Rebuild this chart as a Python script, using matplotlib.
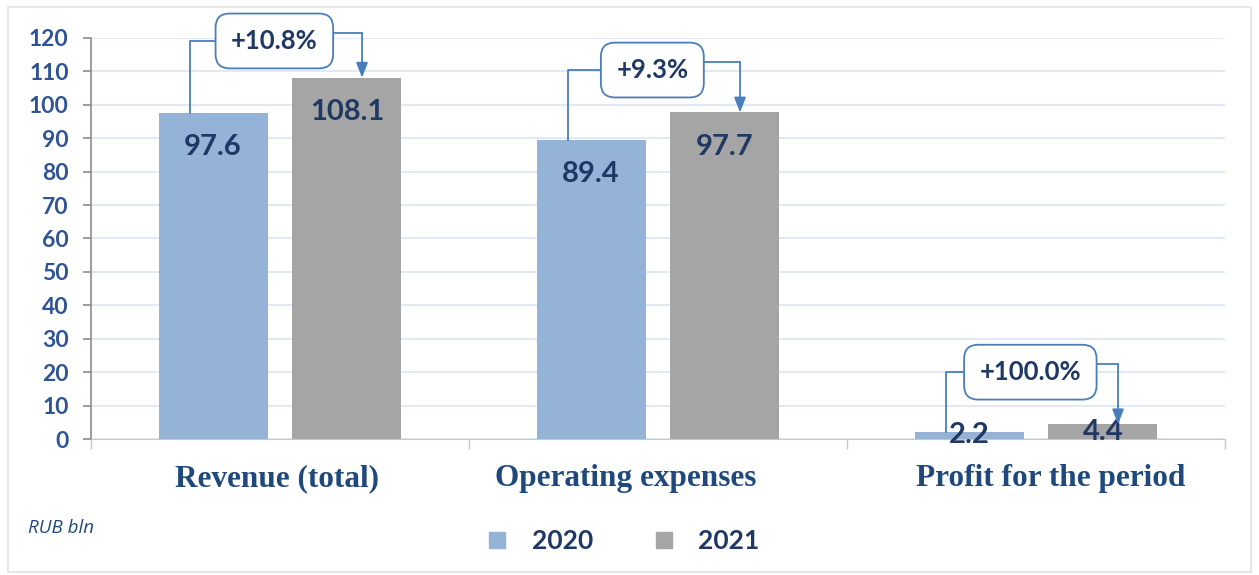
import numpy as np
import matplotlib.pyplot as plt
from matplotlib.lines import Line2D
from matplotlib.patches import Rectangle
from matplotlib.transforms import ScaledTranslation

# chart values (RUB bln)
categories = ["Revenue (total)", "Operating expenses", "Profit for the period"]
years = ["2020", "2021"]
values_2020 = [97.6, 89.4, 2.2]
values_2021 = [108.1, 97.7, 4.4]
changes = ["+10.8%", "+9.3%", "+100.0%"]
yticks = list(range(0, 121, 10))

# colours
c2020 = "#95B3D7"
c2021 = "#A5A5A5"
tick_col = "#2F5496"
label_col = "#1F3864"
cat_col = "#1F497D"
box_col = "#4A7EBB"
grid_col = "#DCE6F2"

fig = plt.figure(figsize=(12.59, 5.75), dpi=100)
fig.patches.append(Rectangle((0.006, 0.006), 0.988, 0.982, transform=fig.transFigure,
                             fill=False, edgecolor="#E3E3E3", linewidth=1.2))
ax = fig.add_axes([0.0723, 0.2365, 0.9007, 0.6975])

x = np.arange(len(categories))
w = 0.288
off = 0.177
ax.bar(x - off, values_2020, w, color=c2020, zorder=3)
ax.bar(x + off, values_2021, w, color=c2021, zorder=3)

# value labels inside bar tops
for xs, vals in ((x - off, values_2020), (x + off, values_2021)):
    for xi, v in zip(xs, vals):
        ax.text(xi, max(v - 10.2, v / 2), f"{v:.1f}", ha="center", va="center",
                fontsize=21, fontweight="bold", color=label_col, family="Lato", zorder=4)

ax.set_xlim(-0.5, 2.5)
ax.set_ylim(0, 120)
ax.set_yticks(yticks)
ax.set_yticklabels([str(t) for t in yticks], fontsize=16.5, fontweight="bold",
                   color=tick_col, family="Lato")
ax.tick_params(axis="y", length=6, color="#8C8C8C", width=1.2, pad=10)
ax.yaxis.grid(True, color=grid_col, linewidth=1.2, zorder=0)
ax.set_axisbelow(True)

ax.set_xticks(x)
ax.set_xticklabels(categories, fontsize=22.5, fontweight="bold", color=cat_col,
                   family="Liberation Serif")
ax.set_xticks([-0.5, 0.5, 1.5, 2.5], minor=True)
ax.tick_params(axis="x", which="major", length=0, pad=18)
ax.tick_params(axis="x", which="minor", length=7, color="#C8C8C8", width=1)
# category labels sit a little off-centre in the original
for lab, dx in zip(ax.get_xticklabels(), [-3, -32, 15]):
    lab.set_transform(lab.get_transform() + ScaledTranslation(dx / 100, 0, fig.dpi_scale_trans))

for s in ("top", "right"):
    ax.spines[s].set_visible(False)
ax.spines["left"].set_color("#8C8C8C")
ax.spines["left"].set_linewidth(1.2)
ax.spines["bottom"].set_color("#C8C8C8")

# change annotations: elbow line from 2020 bar, box, arrow into 2021 bar
box_y = [119.1, 110.4, 20.0]
for i, (a, b, txt) in enumerate(zip(values_2020, values_2021, changes)):
    xl = i - off - 0.06
    xr = i + off + 0.04
    yb = box_y[i]
    ax.text(i - 0.015, yb, txt, ha="center", va="center", fontsize=18.5,
            fontweight="bold", color=label_col, family="Lato", zorder=6, clip_on=False,
            bbox=dict(boxstyle="round,pad=0.6,rounding_size=0.55", fc="white",
                      ec=box_col, lw=1.3))
    ax.plot([xl, xl, i - 0.1], [a, yb, yb], color=box_col, lw=1.3, zorder=5,
            clip_on=False)
    ax.annotate("", xy=(xr, b), xytext=(xr, yb + 2.3),
                arrowprops=dict(arrowstyle="-|>,head_width=0.35,head_length=0.9",
                                color=box_col, lw=1.3, shrinkA=0, shrinkB=0),
                zorder=5, annotation_clip=False)
    ax.plot([i + 0.1, xr], [yb + 2.3, yb + 2.3], color=box_col, lw=1.3, zorder=5,
            clip_on=False)

# legend and unit note
handles = [Line2D([], [], marker="s", ls="", ms=11, color=c2020),
           Line2D([], [], marker="s", ls="", ms=11, color=c2021)]
leg = fig.legend(handles, years, loc="center", bbox_to_anchor=(0.494, 0.059), ncol=2,
                 frameon=False, handlelength=1.0, handletextpad=0.8, columnspacing=2.2,
                 prop={"family": "Lato", "weight": "bold", "size": 19})
for t in leg.get_texts():
    t.set_color(label_col)

fig.text(0.022, 0.082, "RUB bln", fontsize=13.5, style="italic", color=cat_col,
         family="Open Sans", va="center")

fig.savefig("out.png", dpi=100)
